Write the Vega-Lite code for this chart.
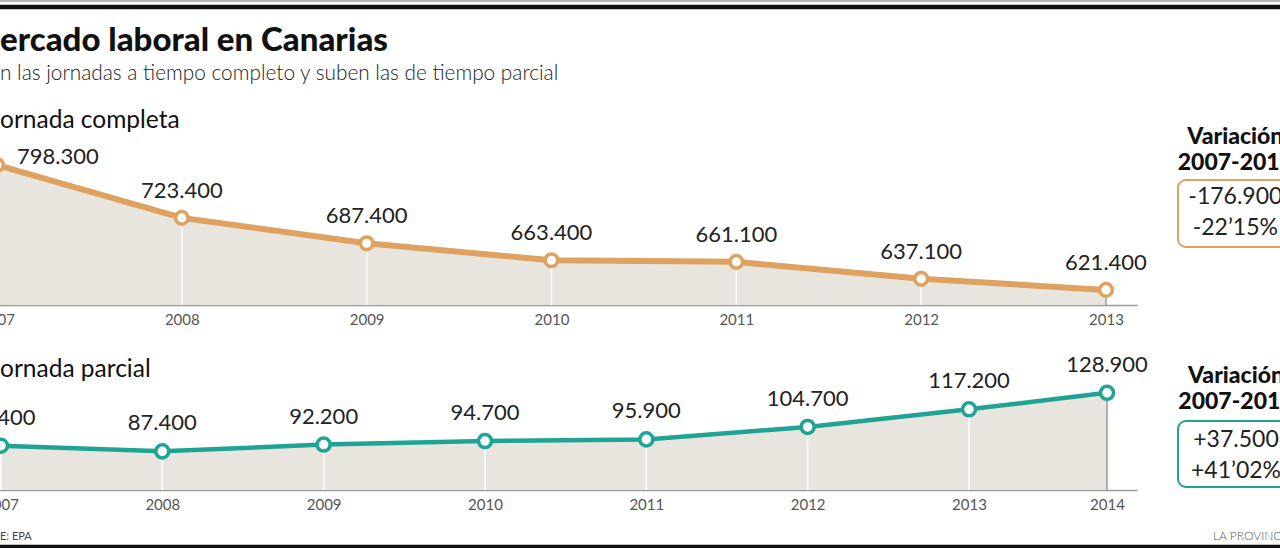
{
  "$schema": "https://vega.github.io/schema/vega-lite/v6.json",
  "width": 1280,
  "height": 448,
  "autosize": {"type": "none"},
  "padding": {"left": 0, "right": 0, "top": 100, "bottom": 0},
  "background": "white",
  "config": {
    "view": {"stroke": null},
    "font": "Lato",
    "locale": {"number": {"decimal": ",", "thousands": ".", "grouping": [3], "currency": ["", " €"]}}
  },
  "datasets": {
    "completa": [
      {"year": 2007, "value": 798300},
      {"year": 2008, "value": 723400},
      {"year": 2009, "value": 687400},
      {"year": 2010, "value": 663400},
      {"year": 2011, "value": 661100},
      {"year": 2012, "value": 637100},
      {"year": 2013, "value": 621400}
    ],
    "parcial": [
      {"year": 2007, "value": 91400},
      {"year": 2008, "value": 87400},
      {"year": 2009, "value": 92200},
      {"year": 2010, "value": 94700},
      {"year": 2011, "value": 95900},
      {"year": 2012, "value": 104700},
      {"year": 2013, "value": 117200},
      {"year": 2014, "value": 128900}
    ]
  },
  "layer": [
    {
      "data": {"name": "completa"},
      "layer": [
        {
          "mark": {"type": "area", "color": "#e7e5de"},
          "encoding": {
            "x": {"field": "year", "type": "quantitative", "title": null,
              "scale": {"domain": [2006.8, 2013.17], "range": [-40, 1137.4], "nice": false, "zero": false},
              "axis": {"values": [2007, 2008, 2009, 2010, 2011, 2012, 2013], "format": "d", "orient": "bottom", "offset": -243,
                "ticks": false, "grid": false, "domainColor": "#9a9a9a", "domainWidth": 1.5,
                "labelFont": "Lato", "labelFontSize": 15, "labelColor": "#555555", "labelPadding": 7,
                "labelFlush": false, "labelOverlap": false, "labelBound": false}},
            "y": {"field": "value", "type": "quantitative", "title": null, "axis": null,
              "scale": {"domain": [600000, 800000], "range": [205, 63.8], "nice": false, "zero": false}},
            "y2": {"datum": 600000}
          }
        },
        {
          "mark": {"type": "rule", "strokeWidth": 1.5},
          "encoding": {
            "x": {"field": "year", "type": "quantitative", "title": null},
            "y": {"field": "value", "type": "quantitative", "title": null, "axis": null},
            "y2": {"datum": 600000},
            "color": {"condition": {"test": "datum.year == 2013", "value": "#9a9a9a"}, "value": "#ffffff"}
          }
        },
        {
          "mark": {"type": "line", "color": "#dfa15f", "strokeWidth": 6},
          "encoding": {
            "x": {"field": "year", "type": "quantitative", "title": null},
            "y": {"field": "value", "type": "quantitative", "title": null, "axis": null}
          }
        },
        {
          "mark": {"type": "circle", "fill": "#ffffff", "stroke": "#dfa15f", "strokeWidth": 3.5, "size": 160, "opacity": 1},
          "encoding": {
            "x": {"field": "year", "type": "quantitative", "title": null},
            "y": {"field": "value", "type": "quantitative", "title": null, "axis": null}
          }
        },
        {
          "transform": [{"filter": "datum.year != 2007"}],
          "mark": {"type": "text", "font": "Lato", "fontSize": 22, "color": "#222222", "baseline": "middle", "dy": -27},
          "encoding": {
            "x": {"field": "year", "type": "quantitative", "title": null},
            "y": {"field": "value", "type": "quantitative", "title": null, "axis": null},
            "text": {"field": "value", "type": "quantitative", "format": ",d"}
          }
        },
        {
          "transform": [{"filter": "datum.year == 2007"}],
          "mark": {"type": "text", "font": "Lato", "fontSize": 22, "color": "#222222", "baseline": "middle", "align": "left", "dx": 20, "dy": -8},
          "encoding": {
            "x": {"field": "year", "type": "quantitative", "title": null},
            "y": {"field": "value", "type": "quantitative", "title": null, "axis": null},
            "text": {"field": "value", "type": "quantitative", "format": ",d"}
          }
        },
        {
          "data": {"values": [{}]},
          "mark": {"type": "text", "font": "Lato", "fontSize": 33, "fontWeight": 900, "color": "#111111", "align": "left", "baseline": "alphabetic"},
          "encoding": {
            "x": {"datum": 2007.0164, "title": null},
            "y": {"datum": 960000, "title": null, "axis": null},
            "text": {"value": "ercado laboral en Canarias"}
          }
        },
        {
          "data": {"values": [{}]},
          "mark": {"type": "text", "font": "Lato", "fontSize": 20.8, "fontWeight": 300, "color": "#222222", "align": "left", "baseline": "alphabetic"},
          "encoding": {
            "x": {"datum": 2007.0164, "title": null},
            "y": {"datum": 918700, "title": null, "axis": null},
            "text": {"value": "n las jornadas a tiempo completo y suben las de tiempo parcial"}
          }
        },
        {
          "data": {"values": [{}]},
          "mark": {"type": "text", "font": "Lato", "fontSize": 24.5, "color": "#111111", "align": "left", "baseline": "alphabetic"},
          "encoding": {
            "x": {"datum": 2007.0164, "title": null},
            "y": {"datum": 850700, "title": null, "axis": null},
            "text": {"value": "ornada completa"}
          }
        },
        {
          "data": {"values": [{}]},
          "mark": {"type": "rule", "color": "#111111", "strokeWidth": 4.5},
          "encoding": {
            "x": {"datum": 2006.5, "title": null},
            "x2": {"datum": 2014.5},
            "y": {"datum": 1022100, "title": null, "axis": null}
          }
        },
        {
          "data": {"values": [{}]},
          "mark": {"type": "rule", "color": "#9a9a9a", "strokeWidth": 1.5},
          "encoding": {
            "x": {"datum": 2006.5, "title": null},
            "x2": {"datum": 2014.5},
            "y": {"datum": 1030600, "title": null, "axis": null}
          }
        },
        {
          "data": {"values": [{}]},
          "mark": {"type": "text", "font": "Lato", "fontSize": 23, "fontWeight": 900, "color": "#111111", "align": "center", "baseline": "alphabetic"},
          "encoding": {
            "x": {"datum": 2013.70, "title": null},
            "y": {"datum": 828000, "title": null, "axis": null},
            "text": {"value": "Variación"}
          }
        },
        {
          "data": {"values": [{}]},
          "mark": {"type": "text", "font": "Lato", "fontSize": 23, "fontWeight": 900, "color": "#111111", "align": "center", "baseline": "alphabetic"},
          "encoding": {
            "x": {"datum": 2013.70, "title": null},
            "y": {"datum": 791200, "title": null, "axis": null},
            "text": {"value": "2007-2013"}
          }
        },
        {
          "data": {"values": [{}]},
          "mark": {"type": "rect", "fill": "#ffffff", "stroke": "#dfa15f", "strokeWidth": 2, "cornerRadius": 8},
          "encoding": {
            "x": {"datum": 2013.3895, "title": null},
            "x2": {"datum": 2014.022},
            "y": {"datum": 777054, "title": null, "axis": null},
            "y2": {"datum": 682153}
          }
        },
        {
          "data": {"values": [{}]},
          "mark": {"type": "text", "font": "Lato", "fontSize": 23, "color": "#222222", "align": "center", "baseline": "middle"},
          "encoding": {
            "x": {"datum": 2013.70, "title": null},
            "y": {"datum": 752975, "title": null, "axis": null},
            "text": {"value": "-176.900"}
          }
        },
        {
          "data": {"values": [{}]},
          "mark": {"type": "text", "font": "Lato", "fontSize": 23, "color": "#222222", "align": "center", "baseline": "middle"},
          "encoding": {
            "x": {"datum": 2013.70, "title": null},
            "y": {"datum": 709065, "title": null, "axis": null},
            "text": {"value": "-22’15%"}
          }
        }
      ]
    },
    {
      "data": {"name": "parcial"},
      "layer": [
        {
          "mark": {"type": "area", "color": "#e7e5de"},
          "encoding": {
            "x": {"field": "year", "type": "quantitative", "title": null,
              "scale": {"domain": [2006.8, 2013, 2014, 2014.2], "range": [-31.3, 969, 1107, 1137], "nice": false, "zero": false},
              "axis": {"values": [2007, 2008, 2009, 2010, 2011, 2012, 2013, 2014], "format": "d", "orient": "bottom", "offset": -58,
                "ticks": false, "grid": false, "domainColor": "#9a9a9a", "domainWidth": 1.5,
                "labelFont": "Lato", "labelFontSize": 15, "labelColor": "#555555", "labelPadding": 7,
                "labelFlush": false, "labelOverlap": false, "labelBound": false}},
            "y": {"field": "value", "type": "quantitative", "title": null, "axis": null,
              "scale": {"domain": [60000, 140000], "range": [390, 277.2], "nice": false, "zero": false}},
            "y2": {"datum": 60000}
          }
        },
        {
          "mark": {"type": "rule", "strokeWidth": 1.5},
          "encoding": {
            "x": {"field": "year", "type": "quantitative", "title": null},
            "y": {"field": "value", "type": "quantitative", "title": null, "axis": null},
            "y2": {"datum": 60000},
            "color": {"condition": {"test": "datum.year == 2014", "value": "#9a9a9a"}, "value": "#ffffff"}
          }
        },
        {
          "mark": {"type": "line", "color": "#1fa394", "strokeWidth": 4.5},
          "encoding": {
            "x": {"field": "year", "type": "quantitative", "title": null},
            "y": {"field": "value", "type": "quantitative", "title": null, "axis": null}
          }
        },
        {
          "mark": {"type": "circle", "fill": "#ffffff", "stroke": "#1fa394", "strokeWidth": 3.5, "size": 170, "opacity": 1},
          "encoding": {
            "x": {"field": "year", "type": "quantitative", "title": null},
            "y": {"field": "value", "type": "quantitative", "title": null, "axis": null}
          }
        },
        {
          "mark": {"type": "text", "font": "Lato", "fontSize": 22, "color": "#222222", "baseline": "middle", "dy": -28},
          "encoding": {
            "x": {"field": "year", "type": "quantitative", "title": null},
            "y": {"field": "value", "type": "quantitative", "title": null, "axis": null},
            "text": {"field": "value", "type": "quantitative", "format": ",d"}
          }
        },
        {
          "data": {"values": [{}]},
          "mark": {"type": "text", "font": "Lato", "fontSize": 24.5, "color": "#111111", "align": "left", "baseline": "alphabetic"},
          "encoding": {
            "x": {"datum": 2006.994, "title": null},
            "y": {"datum": 140140, "title": null, "axis": null},
            "text": {"value": "ornada parcial"}
          }
        },
        {
          "data": {"values": [{}]},
          "mark": {"type": "text", "font": "Lato", "fontSize": 23, "fontWeight": 900, "color": "#111111", "align": "center", "baseline": "alphabetic"},
          "encoding": {
            "x": {"datum": 2014.86, "title": null},
            "y": {"datum": 136000, "title": null, "axis": null},
            "text": {"value": "Variación"}
          }
        },
        {
          "data": {"values": [{}]},
          "mark": {"type": "text", "font": "Lato", "fontSize": 23, "fontWeight": 900, "color": "#111111", "align": "center", "baseline": "alphabetic"},
          "encoding": {
            "x": {"datum": 2014.86, "title": null},
            "y": {"datum": 117400, "title": null, "axis": null},
            "text": {"value": "2007-2014"}
          }
        },
        {
          "data": {"values": [{}]},
          "mark": {"type": "rect", "fill": "#ffffff", "stroke": "#1fa394", "strokeWidth": 2, "cornerRadius": 8},
          "encoding": {
            "x": {"datum": 2014.4733, "title": null},
            "x2": {"datum": 2015.2533},
            "y": {"datum": 108936, "title": null, "axis": null},
            "y2": {"datum": 62128}
          }
        },
        {
          "data": {"values": [{}]},
          "mark": {"type": "text", "font": "Lato", "fontSize": 23, "color": "#222222", "align": "center", "baseline": "middle"},
          "encoding": {
            "x": {"datum": 2014.86, "title": null},
            "y": {"datum": 95461, "title": null, "axis": null},
            "text": {"value": "+37.500"}
          }
        },
        {
          "data": {"values": [{}]},
          "mark": {"type": "text", "font": "Lato", "fontSize": 23, "color": "#222222", "align": "center", "baseline": "middle"},
          "encoding": {
            "x": {"datum": 2014.86, "title": null},
            "y": {"datum": 73475, "title": null, "axis": null},
            "text": {"value": "+41’02%"}
          }
        },
        {
          "data": {"values": [{}]},
          "mark": {"type": "text", "font": "Lato", "fontSize": 11, "color": "#444444", "align": "left", "baseline": "alphabetic"},
          "encoding": {
            "x": {"datum": 2006.994, "title": null},
            "y": {"datum": 24540, "title": null, "axis": null},
            "text": {"value": "E: EPA"}
          }
        },
        {
          "data": {"values": [{}]},
          "mark": {"type": "text", "font": "Lato", "fontSize": 12, "fontWeight": 300, "color": "#555555", "align": "left", "baseline": "alphabetic"},
          "encoding": {
            "x": {"datum": 2014.7067, "title": null},
            "y": {"datum": 24540, "title": null, "axis": null},
            "text": {"value": "LA PROVINCIA"}
          }
        },
        {
          "data": {"values": [{}]},
          "mark": {"type": "rule", "color": "#111111", "strokeWidth": 3.5},
          "encoding": {
            "x": {"datum": 2006, "title": null},
            "x2": {"datum": 2015.5},
            "y": {"datum": 19930, "title": null, "axis": null}
          }
        }
      ]
    }
  ],
  "resolve": {"scale": {"x": "independent", "y": "independent"}}
}
